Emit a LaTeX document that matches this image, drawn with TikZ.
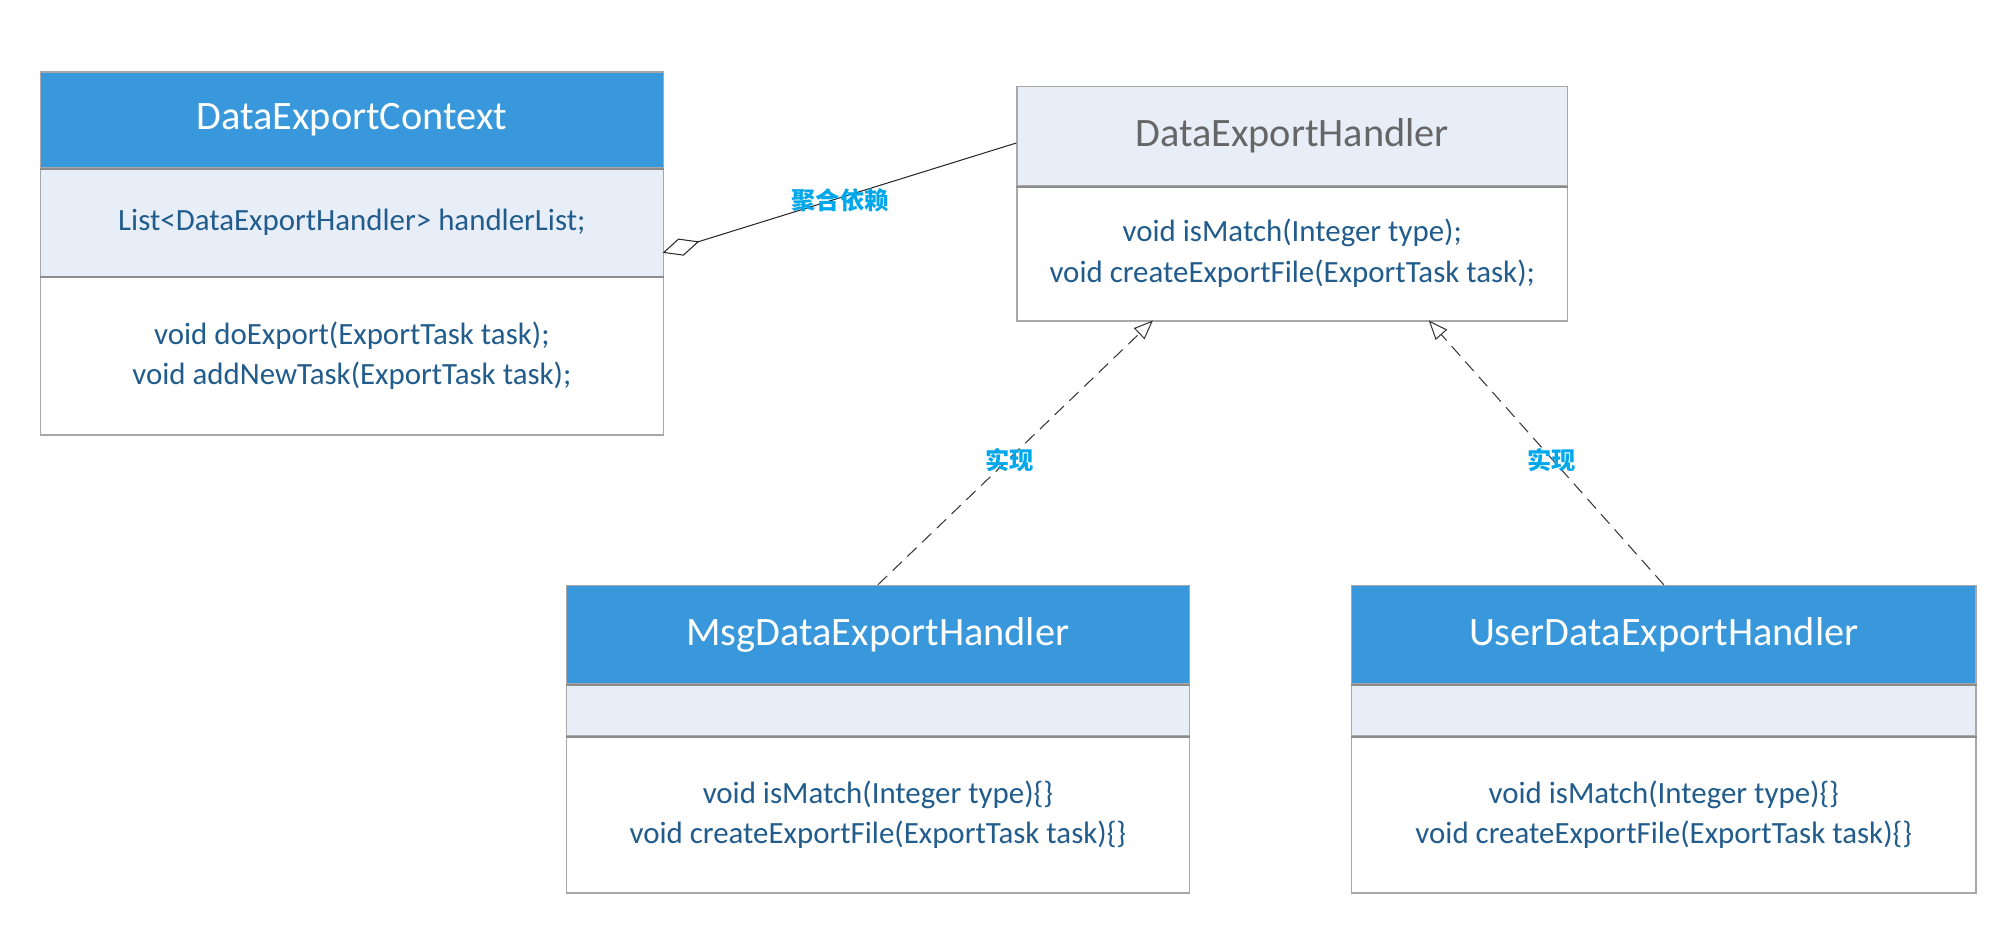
\documentclass[tikz,border=0pt]{standalone}
\usepackage{fontspec}
\setmainfont{Carlito}
\newfontfamily\cjk{Noto Sans CJK SC}
\usetikzlibrary{arrows.meta}
\definecolor{hdrblue}{HTML}{3898DB}
\definecolor{lightfill}{HTML}{E8EEF8}
\definecolor{edgegray}{HTML}{A8A8A8}
\definecolor{divgray}{HTML}{8C8C8C}
\definecolor{codeblue}{HTML}{215C8C}
\definecolor{titlegray}{HTML}{666666}
\definecolor{lblcyan}{HTML}{00A7EA}
\begin{document}
\begin{tikzpicture}[x=1pt,y=-1pt,
 comp/.style={draw=edgegray, line width=1.2pt, rectangle, anchor=north west, inner sep=0pt, align=center},
 hdr/.style={comp, fill=hdrblue, text=white, font=\fontsize{31.6}{36}\selectfont},
 hdrlight/.style={comp, fill=lightfill, text=titlegray, font=\fontsize{31.6}{36}\selectfont},
 attr/.style={comp, fill=lightfill, text=codeblue, font=\fontsize{24.2}{32}\selectfont},
 meth/.style={comp, fill=white, text=codeblue, font=\fontsize{24.2}{32}\selectfont},
 divider/.style={draw=divgray, line width=1.6pt},
 lbl/.style={text=lblcyan, font=\cjk\bfseries\fontsize{19}{22}\selectfont, inner sep=0pt},
 aggline/.style={draw=black!85, line width=0.8pt, {Diamond[open, length=30pt, width=14pt, line width=0.8pt]}-},
 realline/.style={draw=black!80, line width=0.8pt, dash pattern=on 10pt off 6pt, -{Triangle[open, length=15pt, width=12pt, line width=0.8pt]}}
]
\useasboundingbox (0,0) rectangle (1568,733);

% DataExportContext
\node[hdr, minimum width=488pt, minimum height=75pt] (c1h) at (31,56) {DataExportContext};
\node[attr, minimum width=488pt, minimum height=85pt] (c1a) at (31,131) {List<DataExportHandler> handlerList;};
\node[meth, minimum width=488pt, minimum height=124pt] (c1m) at (31,216) {void doExport(ExportTask task);\\void addNewTask(ExportTask task);};
\draw[divider] (c1h.south west) -- (c1h.south east);
\draw[divider] (c1a.south west) -- (c1a.south east);

% DataExportHandler
\node[hdrlight, minimum width=431pt, minimum height=78pt] (h2h) at (796,67) {DataExportHandler};
\node[meth, minimum width=431pt, minimum height=106pt] (h2m) at (796,145) {void isMatch(Integer type);\\void createExportFile(ExportTask task);};
\draw[divider] (h2h.south west) -- (h2h.south east);

% MsgDataExportHandler
\node[hdr, minimum width=488pt, minimum height=77pt] (m3h) at (443,458) {MsgDataExportHandler};
\node[attr, minimum width=488pt, minimum height=41pt] (m3a) at (443,535) {};
\node[meth, minimum width=488pt, minimum height=123pt] (m3m) at (443,576) {void isMatch(Integer type)\{\}\\void createExportFile(ExportTask task)\{\}};
\draw[divider] (m3h.south west) -- (m3h.south east);
\draw[divider] (m3a.south west) -- (m3a.south east);

% UserDataExportHandler
\node[hdr, minimum width=489pt, minimum height=77pt] (u4h) at (1058,458) {UserDataExportHandler};
\node[attr, minimum width=489pt, minimum height=41pt] (u4a) at (1058,535) {};
\node[meth, minimum width=489pt, minimum height=123pt] (u4m) at (1058,576) {void isMatch(Integer type)\{\}\\void createExportFile(ExportTask task)\{\}};
\draw[divider] (u4h.south west) -- (u4h.south east);
\draw[divider] (u4a.south west) -- (u4a.south east);

% connectors
\coordinate (aggA) at (519,198);
\coordinate (aggB) at (796,112);
\draw[aggline] (aggA) -- (aggB);
\node[lbl] (aggL) at (658,157) {聚合依赖};

\coordinate (r1) at (903,251);
\coordinate (r2) at (1119,251);
\draw[realline] (m3h.north) -- (r1);
\draw[realline] (u4h.north) -- (r2);
\node[lbl] (rl1) at (791,360) {实现};
\node[lbl] (rl2) at (1215,360) {实现};
\end{tikzpicture}
\end{document}
